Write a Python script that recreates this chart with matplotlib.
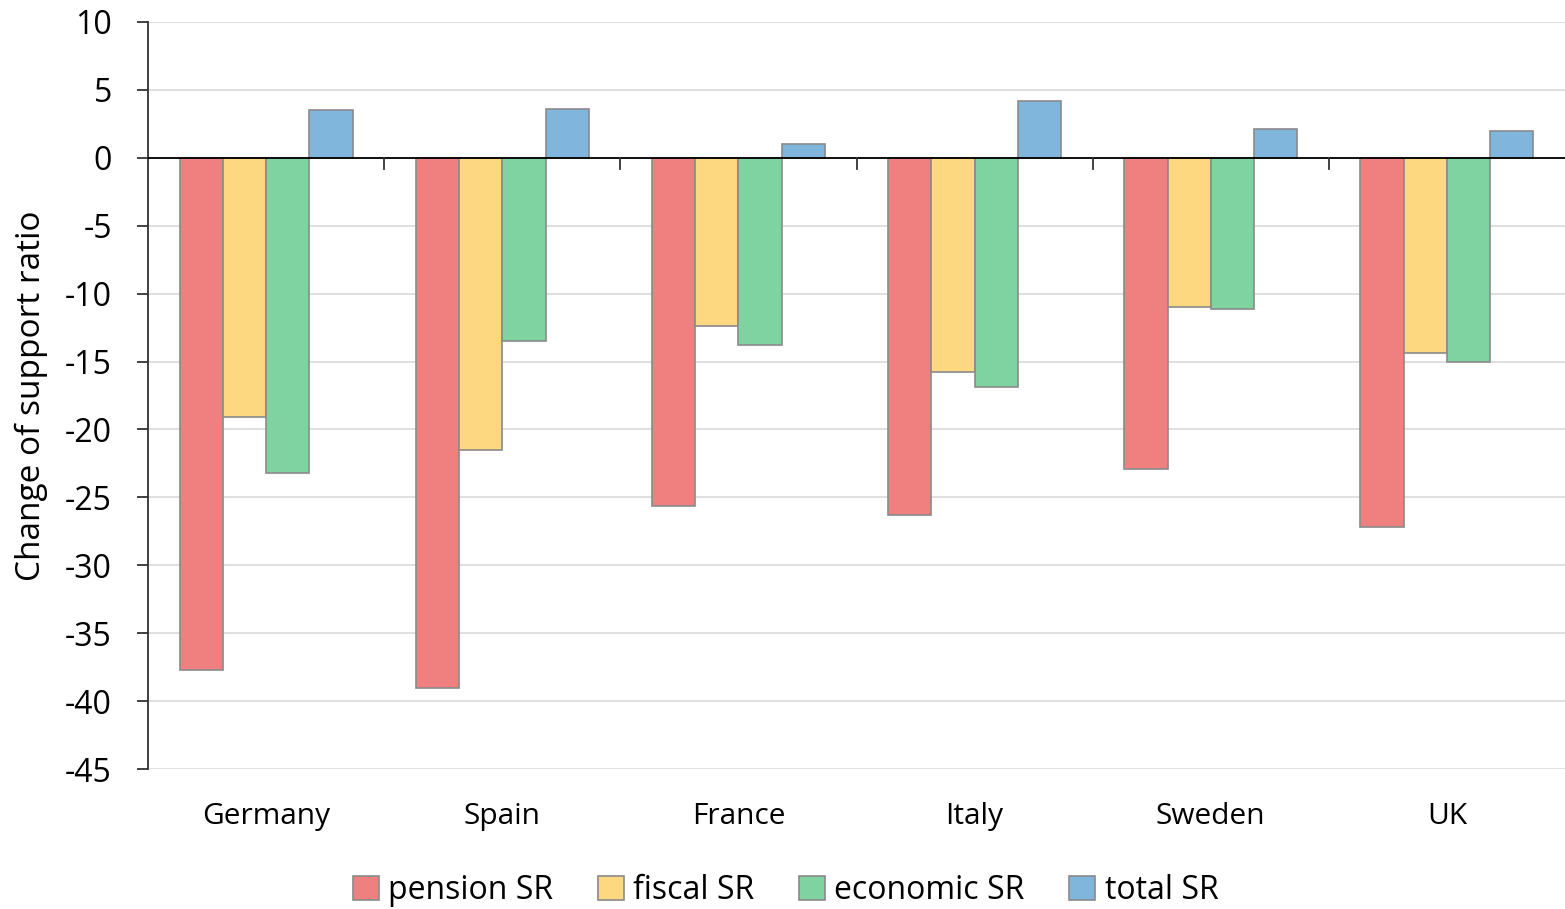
import numpy as np
import matplotlib.pyplot as plt

plt.rcParams['font.family'] = ['Open Sans', 'DejaVu Sans']
plt.rcParams['axes.unicode_minus'] = False

countries = ['Germany', 'Spain', 'France', 'Italy', 'Sweden', 'UK']
pension_sr = [-37.7, -39.0, -25.6, -26.3, -22.9, -27.2]
fiscal_sr = [-19.1, -21.5, -12.4, -15.8, -11.0, -14.4]
economic_sr = [-23.2, -13.5, -13.8, -16.9, -11.1, -15.0]
total_sr = [3.5, 3.6, 1.0, 4.2, 2.1, 2.0]

series = [
    ('pension SR', pension_sr, '#F07F7F'),
    ('fiscal SR', fiscal_sr, '#FDD880'),
    ('economic SR', economic_sr, '#7FD3A0'),
    ('total SR', total_sr, '#80B5DC'),
]

fig = plt.figure(figsize=(15.65, 9.09), dpi=100)
ax = fig.add_axes([0.0946, 0.154, 0.9054, 0.8218])

x = np.arange(len(countries))
width = 0.183
for i, (name, vals, col) in enumerate(series):
    ax.bar(x + (i - 1.5) * width, vals, width, color=col, edgecolor='#8a8a8a',
           linewidth=1.2, label=name, zorder=3)

ax.set_xlim(-0.5, len(countries) - 0.5)
ax.set_ylim(-45, 10)
ax.set_yticks(np.arange(-45, 11, 5))
ax.yaxis.grid(True, color='#d9d9d9', linewidth=1.2, zorder=0)
ax.set_axisbelow(True)

# zero line with small separators between the country groups
ax.axhline(0, color='black', linewidth=1.3, zorder=4)
for b in np.arange(0.5, len(countries) - 0.5, 1):
    ax.plot([b, b], [0, -0.85], color='#333333', linewidth=1.3, zorder=4)

for s in ['top', 'right', 'bottom']:
    ax.spines[s].set_visible(False)
ax.spines['left'].set_color('#333333')
ax.spines['left'].set_linewidth(1.3)

ax.set_xticks(x)
ax.set_xticklabels(countries)
ax.tick_params(axis='x', length=0, pad=24, labelsize=21.5)
ax.tick_params(axis='y', length=8, width=1.3, color='#333333', labelsize=23, pad=18)
ax.set_ylabel('Change of support ratio', fontsize=24, labelpad=12)

ax.legend(loc='upper center', bbox_to_anchor=(0.45, -0.102), ncol=4, frameon=False,
          fontsize=23, handlelength=0.8, handleheight=0.8, handletextpad=0.3,
          columnspacing=1.4)

fig.savefig('out.png', dpi=100)
